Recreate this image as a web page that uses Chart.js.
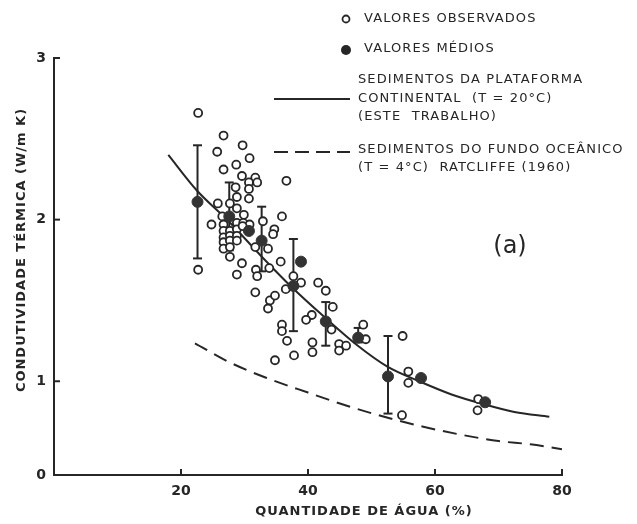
<!DOCTYPE html>
<html>
<head>
<meta charset="utf-8">
<script src="https://cdn.jsdelivr.net/npm/chart.js@4.4.0/dist/chart.umd.min.js"></script>
<style>
  html, body { margin: 0; padding: 0; background: #fff; }
  canvas { display: block; }
</style>
</head>
<body>
<canvas id="chart" width="637" height="524"></canvas>
<script>
// ==============================
// data
// ==============================
// observed values (water %, W/m K)
const obsX = [22.7, 26.7, 29.7, 25.7, 30.8, 28.7, 26.7, 29.6, 31.7, 30.7, 32.0, 28.6, 30.7, 28.8, 30.7, 25.8, 27.7, 36.6,
  28.8, 29.9, 26.5, 24.8, 26.7, 28.8, 29.8, 30.8, 26.7, 27.7, 28.8, 29.7, 26.7, 27.7, 28.8, 26.7, 27.7, 28.8, 26.7, 27.7,
  31.7, 33.7, 27.7, 29.6, 22.7, 28.8, 31.8, 32.0, 33.9, 31.7, 34.0, 33.7, 34.8, 35.9, 34.7, 34.5, 32.9, 35.7,
  37.7, 38.9, 36.5, 41.6, 42.8, 40.6, 39.7, 43.9, 43.7, 35.9, 35.9, 36.7, 40.7, 40.7, 37.8, 34.8,
  44.9, 44.9, 46.0, 48.7, 49.1, 54.9, 55.8, 55.8, 54.8, 66.8, 66.7];
const obsY = [2.66, 2.52, 2.46, 2.42, 2.38, 2.34, 2.31, 2.27, 2.26, 2.23, 2.23, 2.20, 2.19, 2.14, 2.13, 2.10, 2.10, 2.24,
  2.07, 2.03, 2.02, 1.97, 1.97, 1.98, 1.98, 1.97, 1.93, 1.93, 1.94, 1.96, 1.89, 1.90, 1.90, 1.86, 1.87, 1.87, 1.82, 1.83,
  1.83, 1.82, 1.77, 1.73, 1.69, 1.66, 1.69, 1.65, 1.70, 1.55, 1.50, 1.45, 1.53, 2.02, 1.94, 1.91, 1.99, 1.74,
  1.65, 1.61, 1.57, 1.61, 1.56, 1.41, 1.38, 1.46, 1.32, 1.35, 1.31, 1.25, 1.24, 1.18, 1.16, 1.13,
  1.23, 1.19, 1.22, 1.35, 1.26, 1.28, 1.06, 0.99, 0.79, 0.89, 0.82];

// mean values with their ranges
const meanX = [22.6, 27.6, 32.7, 37.7, 42.8, 47.9, 52.6];
const meanY = [2.11, 2.02, 1.87, 1.59, 1.37, 1.27, 1.03];
const errLow = [1.76, 1.81, 1.68, 1.31, 1.22, 1.24, 0.80];
const errHigh = [2.46, 2.23, 2.08, 1.88, 1.49, 1.33, 1.28];
// mean values drawn without a range
const soloMeanX = [30.7, 38.9, 57.8, 67.9];
const soloMeanY = [1.93, 1.74, 1.02, 0.87];

// continental shelf curve (T = 20 C)
const shelfX = [18, 22.5, 27.5, 32.5, 37.5, 42.5, 47.5, 52.5, 57.5, 62.5, 67.5, 72.5, 78];
const shelfY = [2.40, 2.18, 1.99, 1.78, 1.58, 1.40, 1.23, 1.09, 1.00, 0.92, 0.86, 0.81, 0.78];
// ocean floor curve, Ratcliffe 1960 (T = 4 C)
const oceanX = [22.2, 27.5, 33.5, 40, 46, 52, 58, 64, 70, 75, 80];
const oceanY = [1.235, 1.12, 1.02, 0.93, 0.85, 0.78, 0.72, 0.67, 0.63, 0.61, 0.58];

// axes
const xTicks = [20, 40, 60, 80];
const yTicks = [1, 2, 3];
const yFoot = 0.42;   // bottom of the drawn axis, labelled "0" on the original

const ink = "#262626";
const pts = (xs, ys) => xs.map((x, i) => ({ x, y: ys[i] }));

// ==============================
// extra drawing: inward ticks, titles, legend
// ==============================
const decor = {
  id: "decor",
  afterDraw(chart) {
    const ctx = chart.ctx;
    const xs = chart.scales.x;
    const ys = chart.scales.y;
    ctx.save();
    ctx.strokeStyle = ink;
    ctx.fillStyle = ink;
    ctx.lineWidth = 2;

    const seg = (x1, y1, x2, y2) => {
      ctx.beginPath();
      ctx.moveTo(x1, y1);
      ctx.lineTo(x2, y2);
      ctx.stroke();
    };

    xTicks.forEach(v => {
      const px = xs.getPixelForValue(v);
      seg(px, ys.bottom, px, ys.bottom - 6);
    });
    yTicks.forEach(v => {
      const py = ys.getPixelForValue(v);
      seg(xs.left, py, xs.left + 6, py);
    });

    // axis titles
    ctx.font = 'bold 13px "DejaVu Sans"';
    if ("letterSpacing" in ctx) ctx.letterSpacing = "1px";
    ctx.textAlign = "center";
    ctx.textBaseline = "middle";
    ctx.fillText("QUANTIDADE DE ÁGUA (%)", 364, 512);
    ctx.save();
    ctx.translate(22, 250);
    ctx.rotate(-Math.PI / 2);
    ctx.fillText("CONDUTIVIDADE TÉRMICA (W/m K)", 0, 0);
    ctx.restore();

    // panel letter
    if ("letterSpacing" in ctx) ctx.letterSpacing = "0px";
    ctx.font = '24px "DejaVu Sans"';
    ctx.fillText("(a)", 510, 247);

    // legend
    ctx.font = '13px "DejaVu Sans"';
    ctx.textAlign = "left";
    if ("letterSpacing" in ctx) ctx.letterSpacing = "1.1px";
    const tx = 358;
    ctx.fillText("VALORES OBSERVADOS", tx + 6, 19);
    ctx.fillText("VALORES MÉDIOS", tx + 6, 49);
    ctx.fillText("SEDIMENTOS DA PLATAFORMA", tx, 80);
    ctx.fillText("CONTINENTAL  (T = 20°C)", tx, 99);
    ctx.fillText("(ESTE  TRABALHO)", tx, 117);
    ctx.fillText("SEDIMENTOS DO FUNDO OCEÂNICO", tx, 150);
    ctx.fillText("(T = 4°C)  RATCLIFFE (1960)", tx, 168);

    ctx.lineWidth = 1.8;
    ctx.fillStyle = "#fff";
    ctx.beginPath();
    ctx.arc(346, 19, 3.5, 0, Math.PI * 2);
    ctx.fill();
    ctx.stroke();
    ctx.fillStyle = ink;
    ctx.beginPath();
    ctx.arc(346, 50, 5, 0, Math.PI * 2);
    ctx.fill();

    ctx.lineWidth = 2;
    seg(274, 99, 350, 99);
    ctx.setLineDash([14, 7]);
    seg(274, 152, 350, 152);
    ctx.restore();
  }
};

// ==============================
// datasets
// ==============================
const datasets = [];

datasets.push({
  label: "valores observados",
  data: pts(obsX, obsY),
  pointStyle: "circle",
  pointRadius: 4,
  backgroundColor: "#fff",
  borderColor: ink,
  borderWidth: 1.8,
  order: 1
});

datasets.push({
  label: "valores médios",
  data: pts(meanX, meanY).concat(pts(soloMeanX, soloMeanY)),
  pointStyle: "circle",
  pointRadius: 5.5,
  backgroundColor: "#333",
  borderColor: "#333",
  borderWidth: 1,
  order: 0
});

// one small line per range, the caps come from pointStyle "line"
meanX.forEach((x, i) => {
  datasets.push({
    label: "range " + i,
    data: [{ x, y: errLow[i] }, { x, y: errHigh[i] }],
    showLine: true,
    borderColor: ink,
    borderWidth: 2,
    pointStyle: "line",
    pointRadius: 4.5,
    pointBorderWidth: 2,
    pointBorderColor: ink,
    order: 2
  });
});

datasets.push({
  label: "plataforma continental",
  data: pts(shelfX, shelfY),
  showLine: true,
  cubicInterpolationMode: "monotone",
  borderColor: ink,
  borderWidth: 2,
  pointRadius: 0,
  order: 3
});

datasets.push({
  label: "fundo oceânico",
  data: pts(oceanX, oceanY),
  showLine: true,
  cubicInterpolationMode: "monotone",
  borderColor: ink,
  borderWidth: 2,
  borderDash: [14, 8],
  pointRadius: 0,
  order: 3
});

// ==============================
// chart
// ==============================
new Chart(document.getElementById("chart"), {
  type: "scatter",
  data: { datasets },
  options: {
    responsive: false,
    animation: false,
    layout: { padding: { left: 0, top: 58, right: 75, bottom: 0 } },
    plugins: { legend: { display: false }, tooltip: { enabled: false } },
    scales: {
      x: {
        type: "linear",
        min: 0,
        max: 80,
        afterBuildTicks: s => { s.ticks = xTicks.map(v => ({ value: v })); },
        afterFit: s => { s.height = 49; },
        grid: { display: false, drawTicks: false },
        border: { display: true, color: ink, width: 2 },
        ticks: {
          color: ink,
          padding: 8,
          maxRotation: 0,
          font: { family: "DejaVu Sans", weight: "bold", size: 14 }
        }
      },
      y: {
        type: "linear",
        min: yFoot,
        max: 3,
        afterBuildTicks: s => { s.ticks = [yFoot].concat(yTicks).map(v => ({ value: v })); },
        afterFit: s => { s.width = 54; },
        grid: { display: false, drawTicks: false },
        border: { display: true, color: ink, width: 2 },
        ticks: {
          color: ink,
          padding: 8,
          font: { family: "DejaVu Sans", weight: "bold", size: 14 },
          callback: v => (v === yFoot ? "0" : String(v))
        }
      }
    }
  },
  plugins: [decor]
});
</script>
</body>
</html>
